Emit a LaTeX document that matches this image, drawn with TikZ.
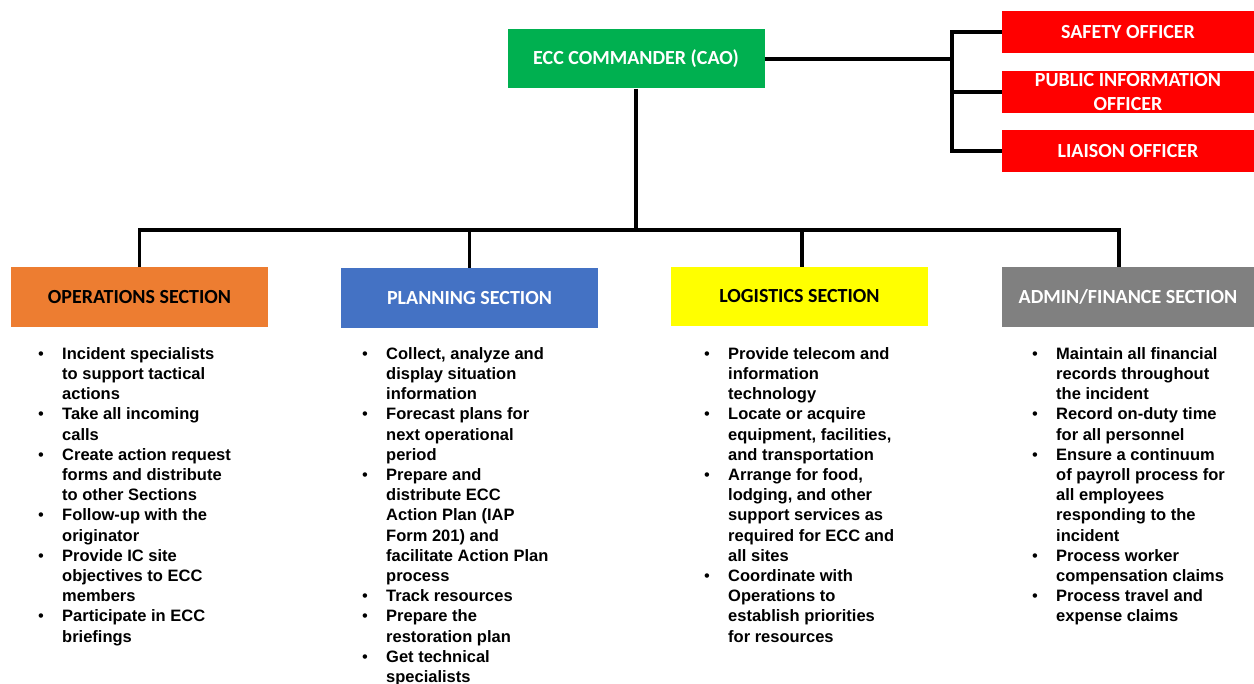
\documentclass[tikz,border=0pt]{standalone}
\usepackage{fontspec}
\setmainfont{Liberation Sans}
\newfontfamily\hdfont{Carlito}
\usepackage{array}
\definecolor{eccgreen}{HTML}{00B050}
\definecolor{offred}{HTML}{FF0000}
\definecolor{opsorange}{HTML}{ED7D31}
\definecolor{planblue}{HTML}{4472C4}
\definecolor{logyellow}{HTML}{FFFF00}
\definecolor{admgray}{HTML}{808080}
\tikzset{
  hdbox/.style={draw=none, inner sep=0pt, font=\hdfont\bfseries\fontsize{20}{24}\selectfont, align=center},
  conn/.style={line width=3.4pt, line join=miter, black},
  lst/.style={anchor=north west, inner sep=0pt, font=\bfseries\fontsize{16.5}{20.2}\selectfont}
}
\newcommand{\lrow}[1]{{\mdseries\textbullet} & #1\\}
\newcommand{\crow}[1]{ & #1\\}
\begin{document}
\begin{tikzpicture}[x=1pt,y=-1pt]
\useasboundingbox (0,0) rectangle (1254,684);
% commander
\node[hdbox, fill=eccgreen, text=white, minimum width=257pt, minimum height=59pt] (ecc) at (636,59) {ECC COMMANDER (CAO)};
% officers
\node[hdbox, fill=offred, text=white, minimum width=252pt, minimum height=42pt] (saf) at (1128,32) {SAFETY OFFICER};
\node[hdbox, fill=offred, text=white, minimum width=252pt, minimum height=42pt] (pio) at (1128,92) {PUBLIC INFORMATION\\OFFICER};
\node[hdbox, fill=offred, text=white, minimum width=252pt, minimum height=42pt] (lia) at (1128,151) {LIAISON OFFICER};
% sections
\node[hdbox, fill=opsorange, text=black, minimum width=257pt, minimum height=60pt] (ops) at (139.5,297) {OPERATIONS SECTION};
\node[hdbox, fill=planblue, text=white, minimum width=257pt, minimum height=60pt] (pln) at (469.5,298) {PLANNING SECTION};
\node[hdbox, fill=logyellow, text=black, minimum width=257pt, minimum height=59pt] (log) at (799.5,296.5) {LOGISTICS SECTION};
\node[hdbox, fill=admgray, text=white, minimum width=252pt, minimum height=60pt] (adm) at (1128,297) {ADMIN/FINANCE SECTION};
% connectors
\coordinate (vb) at (952,59);
\coordinate (bus) at (636,230);
\draw[conn] (ecc.east) -- (vb);
\draw[conn] (saf.west) -| (vb);
\draw[conn] (lia.west) -| (vb);
\draw[conn] (pio.west) -- (pio.west -| vb);
\draw[conn] (ecc.south) -- (bus);
\draw[conn] (ops.north) |- (bus);
\draw[conn] (pln.north) |- (bus);
\draw[conn] ([xshift=2.5pt]log.north) |- (bus);
\draw[conn] ([xshift=-9pt]adm.north) |- (bus);
% lists
\node[lst] (opsL) at (38,345) {\begin{tabular}{@{}p{24pt}@{}l@{}}
\lrow{Incident specialists}\crow{to support tactical}\crow{actions}
\lrow{Take all incoming}\crow{calls}
\lrow{Create action request}\crow{forms and distribute}\crow{to other Sections}
\lrow{Follow-up with the}\crow{originator}
\lrow{Provide IC site}\crow{objectives to ECC}\crow{members}
\lrow{Participate in ECC}\crow{briefings}
\end{tabular}};
\node[lst] (plnL) at (362,345) {\begin{tabular}{@{}p{24pt}@{}l@{}}
\lrow{Collect, analyze and}\crow{display situation}\crow{information}
\lrow{Forecast plans for}\crow{next operational}\crow{period}
\lrow{Prepare and}\crow{distribute ECC}\crow{Action Plan (IAP}\crow{Form 201) and}\crow{facilitate Action Plan}\crow{process}
\lrow{Track resources}
\lrow{Prepare the}\crow{restoration plan}
\lrow{Get technical}\crow{specialists}
\end{tabular}};
\node[lst] (logL) at (704,345) {\begin{tabular}{@{}p{24pt}@{}l@{}}
\lrow{Provide telecom and}\crow{information}\crow{technology}
\lrow{Locate or acquire}\crow{equipment, facilities,}\crow{and transportation}
\lrow{Arrange for food,}\crow{lodging, and other}\crow{support services as}\crow{required for ECC and}\crow{all sites}
\lrow{Coordinate with}\crow{Operations to}\crow{establish priorities}\crow{for resources}
\end{tabular}};
\node[lst] (admL) at (1032,345) {\begin{tabular}{@{}p{24pt}@{}l@{}}
\lrow{Maintain all financial}\crow{records throughout}\crow{the incident}
\lrow{Record on-duty time}\crow{for all personnel}
\lrow{Ensure a continuum}\crow{of payroll process for}\crow{all employees}\crow{responding to the}\crow{incident}
\lrow{Process worker}\crow{compensation claims}
\lrow{Process travel and}\crow{expense claims}
\end{tabular}};
\end{tikzpicture}
\end{document}
